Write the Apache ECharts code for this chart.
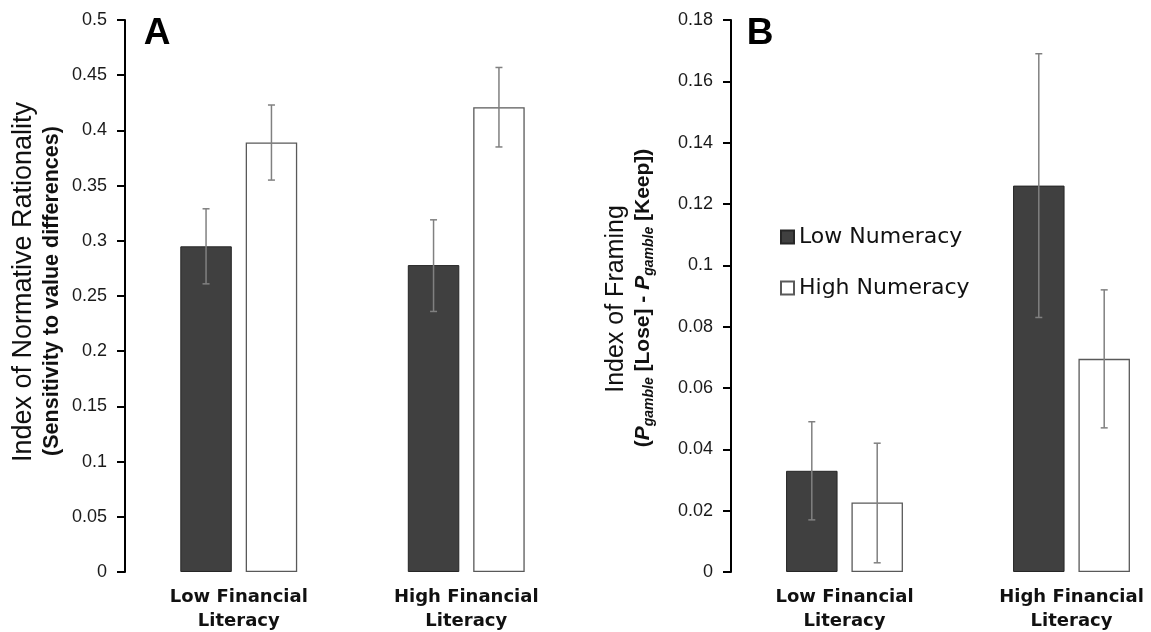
<!DOCTYPE html>
<html>
<head>
<meta charset="utf-8">
<script src="https://cdn.jsdelivr.net/npm/echarts@6/dist/echarts.min.js"></script>
<style>html,body{margin:0;padding:0;background:#fff;}#c{width:1151px;height:632px;}</style>
</head>
<body>
<div id="c"></div>
<script>
const categories = ['Low Financial\nLiteracy', 'High Financial\nLiteracy'];
const seriesNames = ['Low Numeracy', 'High Numeracy'];
// Panel A: Index of Normative Rationality
const aLowNum = [0.295, 0.278];
const aHighNum = [0.389, 0.421];
const aLowNumErr = [[0.261, 0.329], [0.236, 0.319]];
const aHighNumErr = [[0.355, 0.423], [0.385, 0.457]];
const aTicks = [0, 0.05, 0.1, 0.15, 0.2, 0.25, 0.3, 0.35, 0.4, 0.45, 0.5];
// Panel B: Index of Framing
const bLowNum = [0.033, 0.126];
const bHighNum = [0.0227, 0.0695];
const bLowNumErr = [[0.017, 0.049], [0.083, 0.169]];
const bHighNumErr = [[0.003, 0.042], [0.047, 0.092]];
const bTicks = [0, 0.02, 0.04, 0.06, 0.08, 0.1, 0.12, 0.14, 0.16, 0.18];

const BAR_W = 51.5;
const BAR_GAP = '27%';
const OFFSET = (BAR_W + BAR_W * 0.27) / 2;

const darkStyle = { color: '#404040', borderColor: '#262626', borderWidth: 1 };
const whiteStyle = { color: '#ffffff', borderColor: '#595959', borderWidth: 1.3 };

function errData(arr) { return arr.map((d, i) => [i, d[0], d[1]]); }
function errRender(sign) {
  return function (params, api) {
    const lo = api.coord([api.value(0), api.value(1)]);
    const hi = api.coord([api.value(0), api.value(2)]);
    const x = lo[0] + sign * OFFSET;
    const cap = 3.5;
    const st = { stroke: '#808080', lineWidth: 1.5 };
    return {
      type: 'group',
      children: [
        { type: 'line', shape: { x1: x, y1: lo[1], x2: x, y2: hi[1] }, style: st },
        { type: 'line', shape: { x1: x - cap, y1: lo[1], x2: x + cap, y2: lo[1] }, style: st },
        { type: 'line', shape: { x1: x - cap, y1: hi[1], x2: x + cap, y2: hi[1] }, style: st }
      ]
    };
  };
}

function yAxis(idx, ticks) {
  return {
    type: 'value', gridIndex: idx,
    min: ticks[0], max: ticks[ticks.length - 1], interval: ticks[1] - ticks[0],
    splitLine: { show: false },
    axisLine: { show: true, lineStyle: { color: '#000', width: 2 } },
    axisTick: { show: true, length: 8, lineStyle: { color: '#000', width: 2 } },
    axisLabel: { margin: 18, fontFamily: 'Liberation Sans', fontSize: 18, color: '#1a1a1a' }
  };
}
function xAxis(idx) {
  return {
    type: 'category', gridIndex: idx, data: categories,
    axisLine: { show: false }, axisTick: { show: false },
    axisLabel: { margin: 13, fontFamily: 'DejaVu Sans', fontWeight: 'bold', fontSize: 18, lineHeight: 24, color: '#111' }
  };
}

const chart = echarts.init(document.getElementById('c'));
chart.setOption({
  animation: false,
  backgroundColor: '#fff',
  grid: [
    { left: 125, width: 455, top: 20, bottom: 60, outerBoundsMode: 'none', containLabel: false },
    { left: 731, width: 454, top: 20, bottom: 60, outerBoundsMode: 'none', containLabel: false }
  ],
  xAxis: [xAxis(0), xAxis(1)],
  yAxis: [yAxis(0, aTicks), yAxis(1, bTicks)],
  legend: {
    data: seriesNames, orient: 'vertical', left: 780, top: 226, padding: 0,
    itemWidth: 13, itemHeight: 13, itemGap: 29, icon: 'rect',
    textStyle: { fontFamily: 'DejaVu Sans', fontSize: 22, color: '#111' }
  },
  series: [
    { name: seriesNames[0], type: 'bar', xAxisIndex: 0, yAxisIndex: 0, data: aLowNum, barWidth: BAR_W, barGap: BAR_GAP, itemStyle: darkStyle },
    { name: seriesNames[1], type: 'bar', xAxisIndex: 0, yAxisIndex: 0, data: aHighNum, barWidth: BAR_W, barGap: BAR_GAP, itemStyle: whiteStyle },
    { name: seriesNames[0], type: 'bar', xAxisIndex: 1, yAxisIndex: 1, data: bLowNum, barWidth: BAR_W, barGap: BAR_GAP, itemStyle: darkStyle },
    { name: seriesNames[1], type: 'bar', xAxisIndex: 1, yAxisIndex: 1, data: bHighNum, barWidth: BAR_W, barGap: BAR_GAP, itemStyle: whiteStyle },
    { type: 'custom', xAxisIndex: 0, yAxisIndex: 0, data: errData(aLowNumErr), renderItem: errRender(-1), z: 5 },
    { type: 'custom', xAxisIndex: 0, yAxisIndex: 0, data: errData(aHighNumErr), renderItem: errRender(1), z: 5 },
    { type: 'custom', xAxisIndex: 1, yAxisIndex: 1, data: errData(bLowNumErr), renderItem: errRender(-1), z: 5 },
    { type: 'custom', xAxisIndex: 1, yAxisIndex: 1, data: errData(bHighNumErr), renderItem: errRender(1), z: 5 }
  ],
  graphic: [
    { type: 'text', x: 157, y: 34, style: { text: 'A', font: 'bold 37px Liberation Sans', fill: '#000', textAlign: 'center', textVerticalAlign: 'middle' } },
    { type: 'text', x: 760, y: 34, style: { text: 'B', font: 'bold 37px Liberation Sans', fill: '#000', textAlign: 'center', textVerticalAlign: 'middle' } },
    { type: 'text', x: 24, y: 282, rotation: Math.PI / 2, style: { text: 'Index of Normative Rationality', font: '27px Liberation Sans', fill: '#111', textAlign: 'center', textVerticalAlign: 'middle' } },
    { type: 'text', x: 52, y: 291, rotation: Math.PI / 2, style: { text: '(Sensitivity to value differences)', font: 'bold 21.5px Liberation Sans', fill: '#111', textAlign: 'center', textVerticalAlign: 'middle' } },
    { type: 'text', x: 616, y: 299, rotation: Math.PI / 2, style: { text: 'Index of Framing', font: '25px Liberation Sans', fill: '#111', textAlign: 'center', textVerticalAlign: 'middle' } },
    { type: 'text', x: 643, y: 298, rotation: Math.PI / 2, style: {
        text: '({p|P}{s|gamble}{n| [Lose] - }{p|P}{s|gamble}{n| [Keep])}',
        fill: '#111', textAlign: 'center', textVerticalAlign: 'middle',
        fontFamily: 'Liberation Sans', fontWeight: 'bold', fontSize: 21,
        rich: {
          n: { fontFamily: 'Liberation Sans', fontWeight: 'bold', fontSize: 21, lineHeight: 22, fill: '#111' },
          p: { fontFamily: 'Liberation Sans', fontWeight: 'bold', fontStyle: 'italic', fontSize: 21, lineHeight: 22, fill: '#111' },
          s: { fontFamily: 'Liberation Sans', fontWeight: 'bold', fontStyle: 'italic', fontSize: 14, lineHeight: 14, padding: [12, 0, 0, 0], fill: '#111' }
        }
      } }
  ]
});
</script>
</body>
</html>
